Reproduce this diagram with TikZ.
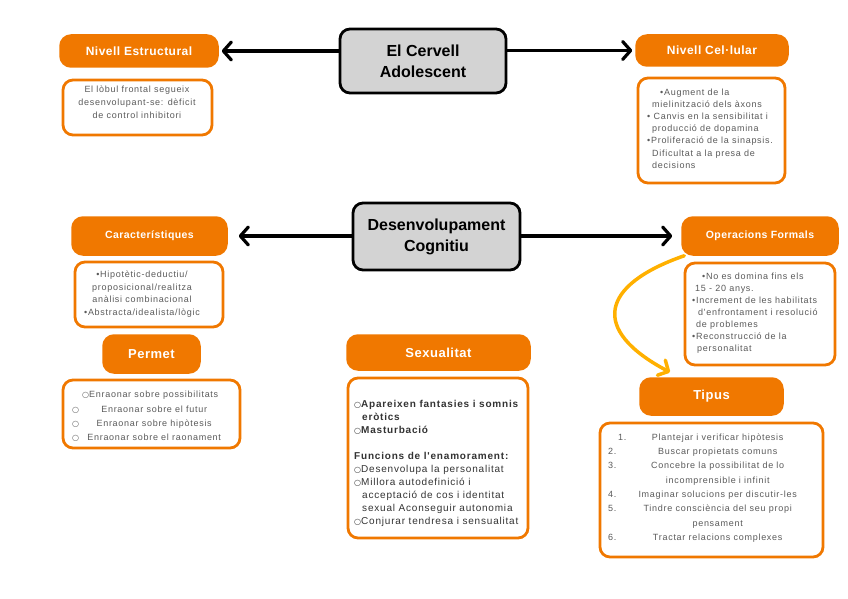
\documentclass[tikz,border=0pt]{standalone}
\usepackage{fontspec}
\setmainfont{Liberation Sans}
\newfontfamily\bodyfont[LetterSpace=8]{Liberation Sans}
\newfontfamily\headfont[LetterSpace=4]{Liberation Sans}
\newfontfamily\symfont{DejaVu Sans Bold}
\usetikzlibrary{arrows.meta}
\definecolor{orng}{HTML}{F07800}
\definecolor{ylw}{HTML}{FFB000}
\definecolor{txtg}{HTML}{5A5A5A}
\definecolor{txtd}{HTML}{333333}
\definecolor{boxg}{HTML}{D3D3D3}
\newcommand\rbul{{\symfont\fontsize{8}{8}\selectfont ○}}
\newcommand\tline[2]{\makebox[20pt][l]{#1}\makebox[179pt][c]{#2}}
\begin{document}
\begin{tikzpicture}[x=1pt,y=-1pt,
 hdr/.style={fill=orng, draw=orng, line width=1.5pt, rounded corners=11pt, text=white,
   font=\headfont\bfseries\fontsize{#1}{#1}\selectfont, inner sep=0pt},
 hdr/.default=12,
 obox/.style={draw=orng, fill=white, line width=2.8pt, rounded corners=10pt, inner sep=0pt},
 gbox/.style={draw=black, fill=boxg, line width=2.8pt, rounded corners=10pt,
   font=\bfseries\fontsize{16}{21}\selectfont, align=center, inner sep=0pt},
 btxt/.style={text=txtg, font=\bodyfont\fontsize{9}{13}\selectfont, inner sep=0pt},
 conn/.style={line width=3.2pt, line cap=round, -{Straight Barb[length=8pt,width=18pt,round]}},
 yconn/.style={draw=ylw, line width=3.5pt, line cap=round, -{Straight Barb[length=8pt,width=17pt,round]}}
]
\useasboundingbox (0,0) rectangle (848,599);

% Top row
\node[gbox, minimum width=166pt, minimum height=64pt] (cer) at (423,61) {El Cervell\\Adolescent};
\node[hdr, minimum width=158pt, minimum height=32pt] (hNE) at (139,51) {Nivell Estructural};
\node[obox, minimum width=149pt, minimum height=55pt] (bNE) at (137.5,107.5) {};
\node[btxt, align=center] (tNE) at (137,102.5) {El lòbul frontal segueix\\desenvolupant-se: dèficit\\de control inhibitori};

\node[hdr, minimum width=152pt, minimum height=31pt] (hNC) at (712,50.5) {Nivell Cel·lular};
\node[obox, minimum width=147pt, minimum height=105pt] (bNC) at (711.5,130.5) {};
\node[btxt, align=left, anchor=west, font=\bodyfont\fontsize{9}{12.2}\selectfont] (tNC) at (647,128.5)
 {\hspace*{13pt}•Augment de la\\ \hspace*{5pt}mielinització dels àxons\\ • Canvis en la sensibilitat i\\ \hspace*{5pt}producció de dopamina\\ •Proliferació de la sinapsis.\\ \hspace*{5pt}Dificultat a la presa de\\ \hspace*{5pt}decisions};

% Middle row
\node[gbox, minimum width=167pt, minimum height=67pt] (des) at (436.5,236.5) {Desenvolupament\\Cognitiu};
\node[hdr=10.5, minimum width=155pt, minimum height=38pt] (hCar) at (149.5,236) {Característiques};
\node[obox, minimum width=148pt, minimum height=65pt] (bCar) at (149,294.5) {};
\node[btxt, align=center, font=\bodyfont\fontsize{9}{12.7}\selectfont] (tCar) at (142,294)
 {•Hipotètic-deductiu/\\proposicional/realitza\\anàlisi combinacional\\•Abstracta/idealista/lògic};

\node[hdr=10.5, minimum width=156pt, minimum height=38pt] (hOF) at (760,236) {Operacions Formals};
\node[obox, minimum width=150pt, minimum height=102pt] (bOF) at (760,314) {};
\node[btxt, align=left, anchor=west, font=\bodyfont\fontsize{9}{12}\selectfont] (tOF) at (692,313)
 {\hspace*{10pt}•No es domina fins els\\ \hspace*{3pt}15 - 20 anys.\\ •Increment de les habilitats\\ \hspace*{6pt}d'enfrontament i resolució\\ \hspace*{4pt}de problemes\\ •Reconstrucció de la\\ \hspace*{5pt}personalitat};

% Permet
\node[hdr=13, minimum width=97pt, minimum height=38pt] (hPer) at (151.5,354) {Permet};
\node[obox, minimum width=177pt, minimum height=68pt] (bPer) at (151.5,414) {};
\node[btxt, align=left, anchor=west, font=\bodyfont\fontsize{9}{14.3}\selectfont] (tPer) at (72,416.5)
 {\hspace*{10pt}\rbul Enraonar sobre possibilitats\\
  \rbul\makebox[150pt][c]{Enraonar sobre el futur}\\
  \rbul\makebox[150pt][c]{Enraonar sobre hipòtesis}\\
  \rbul\makebox[150pt][c]{Enraonar sobre el raonament}};

% Sexualitat
\node[hdr=13, minimum width=183pt, minimum height=35pt] (hSex) at (438.5,352.5) {Sexualitat};
\node[obox, minimum width=180pt, minimum height=160pt] (bSex) at (438,458) {};
\node[btxt, text=txtd, align=left, anchor=west, font=\bodyfont\fontsize{10}{13}\selectfont] (tSex) at (354,463.5)
 {\rbul\textbf{Apareixen fantasies i somnis}\\
  \hspace*{8pt}\textbf{eròtics}\\
  \rbul\textbf{Masturbació}\\[13pt]
  \textbf{Funcions de l'enamorament:}\\
  \rbul Desenvolupa la personalitat\\
  \rbul Millora autodefinició i\\
  \hspace*{8pt}acceptació de cos i identitat\\
  \hspace*{8pt}sexual Aconseguir autonomia\\
  \rbul Conjurar tendresa i sensualitat};

% Tipus
\node[hdr=13, minimum width=143pt, minimum height=37pt] (hTip) at (711.5,396.5) {Tipus};
\node[obox, minimum width=223pt, minimum height=134pt] (bTip) at (711.5,490) {};
\node[btxt, align=left, anchor=west, font=\bodyfont\fontsize{9}{14.3}\selectfont] (tTip) at (608,488)
 {\tline{\hspace*{10pt}1.}{Plantejar i verificar hipòtesis}\\
  \tline{2.}{Buscar propietats comuns}\\
  \tline{3.}{Concebre la possibilitat de lo}\\
  \tline{}{incomprensible i infinit}\\
  \tline{4.}{Imaginar solucions per discutir-les}\\
  \tline{5.}{Tindre consciència del seu propi}\\
  \tline{}{pensament}\\
  \tline{6.}{Tractar relacions complexes}};

% Connectors
\draw[conn, shorten >=3pt] (cer.west |- hNE.east) -- (hNE.east);
\draw[conn, shorten >=3pt] (cer.east |- hNC.west) -- (hNC.west);
\draw[conn, shorten >=11pt] (des.west |- hCar.east) -- (hCar.east);
\draw[conn, shorten >=9pt] (des.east |- hOF.west) -- (hOF.west);
\draw[yconn] ([xshift=3pt]hOF.south west) .. controls (600,285) and (590,330) .. ([xshift=-41.5pt,yshift=5pt]hTip.north);
\end{tikzpicture}
\end{document}
